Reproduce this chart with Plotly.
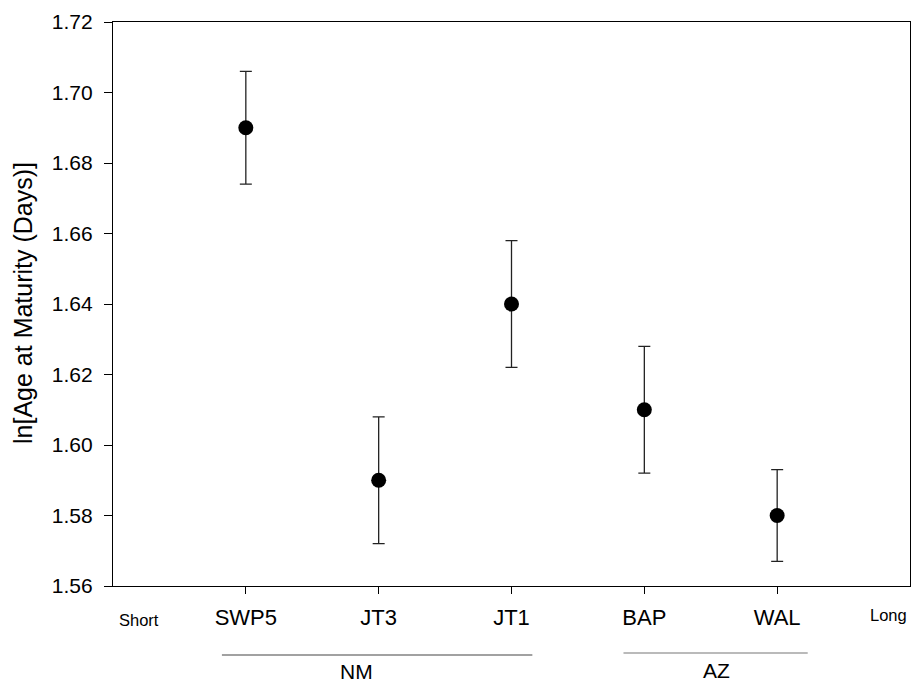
import plotly.graph_objects as go

# Data
sites = ["SWP5", "JT3", "JT1", "BAP", "WAL"]
site_pos = [1, 2, 3, 4, 5]
means = [1.690, 1.590, 1.640, 1.610, 1.580]
upper = [1.706, 1.608, 1.658, 1.628, 1.593]
lower = [1.674, 1.572, 1.622, 1.592, 1.567]
y_ticks = [1.56, 1.58, 1.60, 1.62, 1.64, 1.66, 1.68, 1.70, 1.72]

err_plus = [u - m for u, m in zip(upper, means)]
err_minus = [m - l for m, l in zip(means, lower)]

FONT = "Liberation Sans, Arial, sans-serif"

# The page has an 8px body margin; keep the document inside the window so that
# no scrollbars appear. Plot box in page pixels:
BOX_L, BOX_R, BOX_T, BOX_B = 113, 910, 22, 586

fig = go.Figure()
fig.add_trace(go.Scatter(
    x=site_pos, y=means, mode="markers",
    marker=dict(size=15, color="black", symbol="circle"),
    error_y=dict(type="data", symmetric=False, array=err_plus, arrayminus=err_minus,
                 color="#222222", thickness=1.3, width=6),
    showlegend=False,
))

fig.update_layout(
    width=903, height=676,
    margin=dict(l=BOX_L - 8, r=903 - (BOX_R - 8), t=BOX_T - 8, b=676 - (BOX_B - 8)),
    paper_bgcolor="white", plot_bgcolor="white",
    font=dict(family=FONT, color="black", size=22),
    xaxis=dict(
        range=[0, 6], tickmode="array", tickvals=site_pos, ticktext=sites,
        ticks="outside", ticklen=7, tickwidth=1, tickcolor="black",
        showline=True, linecolor="black", linewidth=1.4, mirror=True,
        showgrid=False, zeroline=False,
        tickfont=dict(size=22, family=FONT),
        ticklabelstandoff=4,
    ),
    yaxis=dict(
        range=[1.56, 1.72], tickmode="array", tickvals=y_ticks,
        ticktext=[f"{v:.2f}" for v in y_ticks],
        ticks="outside", ticklen=8, tickwidth=1, tickcolor="black",
        showline=True, linecolor="black", linewidth=1.4, mirror=True,
        showgrid=False, zeroline=False,
        tickfont=dict(size=21, family=FONT),
        ticklabelstandoff=7,
    ),
)


def py(ypix):
    """Page pixel row -> paper y."""
    return (BOX_B - ypix) / (BOX_B - BOX_T)


def px(xpix):
    """Page pixel column -> paper x."""
    return (xpix - BOX_L) / (BOX_R - BOX_L)


# Y axis title (rotated)
fig.add_annotation(x=px(23), y=py(303), xref="paper", yref="paper",
                   text="ln[Age at Maturity (Days)]", textangle=-90, showarrow=False,
                   xanchor="center", yanchor="middle", font=dict(size=25, family=FONT))

# Side labels
fig.add_annotation(x=0.194, y=py(620), xref="x", yref="paper", text="Short", showarrow=False,
                   xanchor="center", yanchor="middle", font=dict(size=16.5, family=FONT))
fig.add_annotation(x=5.84, y=py(615), xref="x", yref="paper", text="Long", showarrow=False,
                   xanchor="center", yanchor="middle", font=dict(size=16.5, family=FONT))

# Group lines and labels
fig.add_shape(type="line", xref="x", yref="paper", x0=0.82, x1=3.157, y0=py(655), y1=py(655),
              line=dict(color="#444444", width=1.2))
fig.add_shape(type="line", xref="x", yref="paper", x0=3.843, x1=5.23, y0=py(653), y1=py(653),
              line=dict(color="#777777", width=1.2))
fig.add_annotation(x=1.83, y=py(671), xref="x", yref="paper", text="NM", showarrow=False,
                   xanchor="center", yanchor="middle", font=dict(size=21, family=FONT))
fig.add_annotation(x=4.54, y=py(670), xref="x", yref="paper", text="AZ", showarrow=False,
                   xanchor="center", yanchor="middle", font=dict(size=21, family=FONT))

fig.write_html("out.html")
